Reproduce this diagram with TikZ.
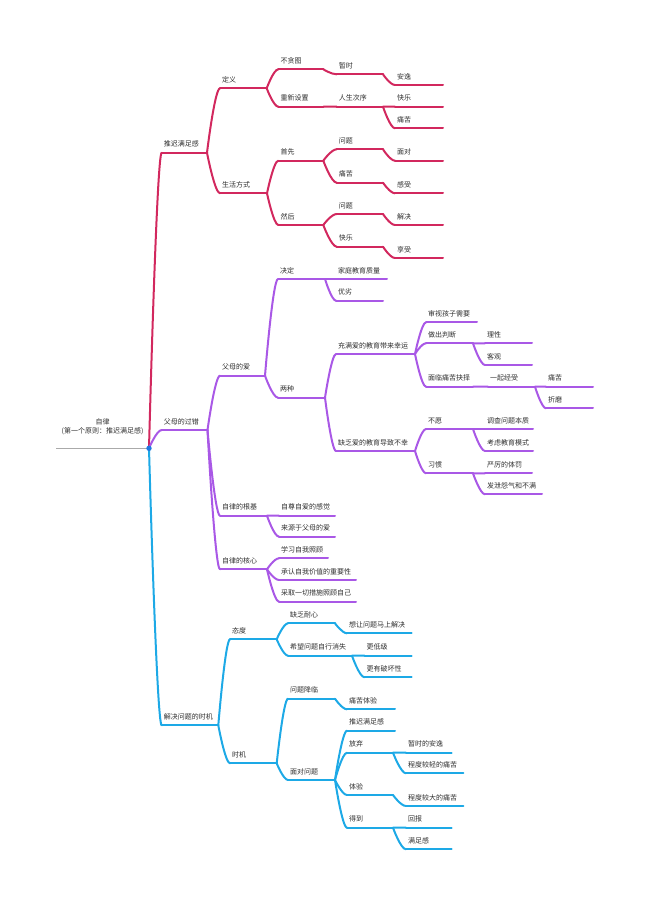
\documentclass[tikz,border=0pt]{standalone}
\usepackage{fontspec}
\setmainfont{Noto Sans CJK SC}
\usetikzlibrary{calc}
\definecolor{redc}{HTML}{D2285E}
\definecolor{purc}{HTML}{A958E6}
\definecolor{bluc}{HTML}{1DA9E6}
\definecolor{txtc}{HTML}{2E2E2E}
\definecolor{dotc}{HTML}{1F78E0}
\definecolor{rootc}{HTML}{AAAAAA}
\tikzset{
  lbl/.style={anchor=base west, inner sep=0pt, text=txtc, font=\fontsize{7}{8.7}\selectfont},
  rl/.style={draw=redc, line width=2pt, line cap=round},
  pl/.style={draw=purc, line width=2pt, line cap=round},
  bl/.style={draw=bluc, line width=2pt, line cap=round},
}
\newcommand\mmnode[6]{%
  \coordinate (#1s) at (#2,#4);
  \coordinate (#1e) at (#3,#4);
  \draw[#6] (#1s) -- (#1e);
  \node[lbl] (#1) at ($(#1s)+(2,-5.8)$) {#5};
}
\newcommand\lnk[3]{%
  \draw[#3] (#1e) .. controls (#1e) and ($(#1e|-#2s)!0.6!(#2s)$) .. (#2s);
}
\begin{document}
\begin{tikzpicture}[x=1pt,y=-1pt]
\useasboundingbox (0,0) rectangle (650,916);
% root
\coordinate (roots) at (56,448.3);
\coordinate (roote) at (149,448.3);
\draw[draw=rootc, line width=1.6pt] (roots) -- (roote);
\node[anchor=base, align=center, inner sep=0pt, text=txtc, font=\fontsize{7}{8.7}\selectfont] (root) at (102.5,433.3) {自律\\(第一个原则：推迟满足感)};

% ---------- red ----------
\mmnode{a}{161.7}{207}{152.7}{推迟满足感}{rl}
\mmnode{a1}{220}{266.7}{88.3}{定义}{rl}
\mmnode{a2}{220}{267}{193.3}{生活方式}{rl}
\mmnode{a11}{278.3}{323.3}{69.3}{不贪图}{rl}
\mmnode{a12}{278.3}{323.3}{106.7}{重新设置}{rl}
\mmnode{a111}{336.7}{383}{74.3}{暂时}{rl}
\mmnode{a121}{336.7}{383}{106.7}{人生次序}{rl}
\mmnode{a1111}{395}{443}{85}{安逸}{rl}
\mmnode{a1211}{395}{443}{106.7}{快乐}{rl}
\mmnode{a1212}{395}{443}{128.3}{痛苦}{rl}
\mmnode{a21}{278.3}{323.3}{160.7}{首先}{rl}
\mmnode{a22}{278.3}{323.3}{225}{然后}{rl}
\mmnode{a211}{336.7}{383}{149.3}{问题}{rl}
\mmnode{a212}{336.7}{383}{182.7}{痛苦}{rl}
\mmnode{a2111}{395}{443}{160.7}{面对}{rl}
\mmnode{a2121}{395}{443}{193.3}{感受}{rl}
\mmnode{a221}{336.7}{383}{214}{问题}{rl}
\mmnode{a222}{336.7}{383}{246.7}{快乐}{rl}
\mmnode{a2211}{395}{443}{225}{解决}{rl}
\mmnode{a2221}{395}{443}{258}{享受}{rl}
\lnk{root}{a}{rl}
\lnk{a}{a1}{rl}\lnk{a}{a2}{rl}
\lnk{a1}{a11}{rl}\lnk{a1}{a12}{rl}
\lnk{a11}{a111}{rl}\lnk{a12}{a121}{rl}
\lnk{a111}{a1111}{rl}\lnk{a121}{a1211}{rl}\lnk{a121}{a1212}{rl}
\lnk{a2}{a21}{rl}\lnk{a2}{a22}{rl}
\lnk{a21}{a211}{rl}\lnk{a21}{a212}{rl}
\lnk{a211}{a2111}{rl}\lnk{a212}{a2121}{rl}
\lnk{a22}{a221}{rl}\lnk{a22}{a222}{rl}
\lnk{a221}{a2211}{rl}\lnk{a222}{a2221}{rl}

% ---------- purple ----------
\mmnode{b}{161.7}{207.5}{430}{父母的过错}{pl}
\mmnode{b1}{220}{265}{375.7}{父母的爱}{pl}
\mmnode{b2}{220}{267}{515.7}{自律的根基}{pl}
\mmnode{b3}{220}{267}{569.3}{自律的核心}{pl}
\mmnode{b11}{278}{325}{279}{决定}{pl}
\mmnode{b12}{278}{325}{397.7}{两种}{pl}
\mmnode{b111}{336}{387}{279}{家庭教育质量}{pl}
\mmnode{b112}{336}{383}{300.7}{优劣}{pl}
\mmnode{b121}{336}{415}{354}{充满爱的教育带来幸运}{pl}
\mmnode{b122}{336}{415}{451}{缺乏爱的教育导致不幸}{pl}
\mmnode{b1211}{426}{477}{322.3}{审视孩子需要}{pl}
\mmnode{b1212}{426}{473}{343.3}{做出判断}{pl}
\mmnode{b1213}{426}{473}{386.7}{面临痛苦抉择}{pl}
\mmnode{b12121}{485}{532}{343.3}{理性}{pl}
\mmnode{b12122}{485}{532}{365}{客观}{pl}
\mmnode{b12131}{488}{535}{386.7}{一起经受}{pl}
\mmnode{b121311}{546}{593}{386.7}{痛苦}{pl}
\mmnode{b121312}{546}{593}{408.3}{折磨}{pl}
\mmnode{b1221}{426}{473}{429}{不愿}{pl}
\mmnode{b1222}{426}{473}{473.3}{习惯}{pl}
\mmnode{b12211}{485}{533}{429}{调查问题本质}{pl}
\mmnode{b12212}{485}{533}{451}{考虑教育模式}{pl}
\mmnode{b12221}{485}{532}{473.3}{严厉的体罚}{pl}
\mmnode{b12222}{485}{542}{494.3}{发泄怨气和不满}{pl}
\mmnode{b21}{279}{335}{515.7}{自尊自爱的感觉}{pl}
\mmnode{b22}{279}{335}{536.7}{来源于父母的爱}{pl}
\mmnode{b31}{279}{328}{558.3}{学习自我照顾}{pl}
\mmnode{b32}{279}{356}{580}{承认自我价值的重要性}{pl}
\mmnode{b33}{279}{356}{601.7}{采取一切措施照顾自己}{pl}
\lnk{root}{b}{pl}
\lnk{b}{b1}{pl}\lnk{b}{b2}{pl}\lnk{b}{b3}{pl}
\lnk{b1}{b11}{pl}\lnk{b1}{b12}{pl}
\lnk{b11}{b111}{pl}\lnk{b11}{b112}{pl}
\lnk{b12}{b121}{pl}\lnk{b12}{b122}{pl}
\lnk{b121}{b1211}{pl}\lnk{b121}{b1212}{pl}\lnk{b121}{b1213}{pl}
\lnk{b1212}{b12121}{pl}\lnk{b1212}{b12122}{pl}
\lnk{b1213}{b12131}{pl}
\lnk{b12131}{b121311}{pl}\lnk{b12131}{b121312}{pl}
\lnk{b122}{b1221}{pl}\lnk{b122}{b1222}{pl}
\lnk{b1221}{b12211}{pl}\lnk{b1221}{b12212}{pl}
\lnk{b1222}{b12221}{pl}\lnk{b1222}{b12222}{pl}
\lnk{b2}{b21}{pl}\lnk{b2}{b22}{pl}
\lnk{b3}{b31}{pl}\lnk{b3}{b32}{pl}\lnk{b3}{b33}{pl}

% ---------- blue ----------
\mmnode{c}{161.7}{218.3}{725.3}{解决问题的时机}{bl}
\mmnode{c1}{230}{276.7}{639.3}{态度}{bl}
\mmnode{c2}{230}{276.7}{763.3}{时机}{bl}
\mmnode{c11}{288}{335}{623.3}{缺乏耐心}{bl}
\mmnode{c12}{288}{352}{655.7}{希望问题自行消失}{bl}
\mmnode{c111}{347}{411.7}{633.3}{想让问题马上解决}{bl}
\mmnode{c121}{364.5}{411.7}{655.7}{更低级}{bl}
\mmnode{c122}{364.5}{411.7}{677.3}{更有破坏性}{bl}
\mmnode{c21}{288}{335}{698.7}{问题降临}{bl}
\mmnode{c22}{288}{335}{780}{面对问题}{bl}
\mmnode{c211}{347}{395}{709.3}{痛苦体验}{bl}
\mmnode{c221}{347}{395}{730.7}{推迟满足感}{bl}
\mmnode{c222}{347}{393}{752.7}{放弃}{bl}
\mmnode{c223}{347}{393}{795}{体验}{bl}
\mmnode{c224}{347}{393}{827.7}{得到}{bl}
\mmnode{c2221}{406}{451.7}{752.7}{暂时的安逸}{bl}
\mmnode{c2222}{406}{463.3}{773.3}{程度较轻的痛苦}{bl}
\mmnode{c2231}{406}{463.3}{806}{程度较大的痛苦}{bl}
\mmnode{c2241}{406}{451.7}{827.7}{回报}{bl}
\mmnode{c2242}{406}{451.7}{849.3}{满足感}{bl}
\lnk{root}{c}{bl}
\lnk{c}{c1}{bl}\lnk{c}{c2}{bl}
\lnk{c1}{c11}{bl}\lnk{c1}{c12}{bl}
\lnk{c11}{c111}{bl}
\lnk{c12}{c121}{bl}\lnk{c12}{c122}{bl}
\lnk{c2}{c21}{bl}\lnk{c2}{c22}{bl}
\lnk{c21}{c211}{bl}
\lnk{c22}{c221}{bl}\lnk{c22}{c222}{bl}\lnk{c22}{c223}{bl}\lnk{c22}{c224}{bl}
\lnk{c222}{c2221}{bl}\lnk{c222}{c2222}{bl}
\lnk{c223}{c2231}{bl}
\lnk{c224}{c2241}{bl}\lnk{c224}{c2242}{bl}

\fill[dotc] (roote) circle (2.7);
\end{tikzpicture}
\end{document}
